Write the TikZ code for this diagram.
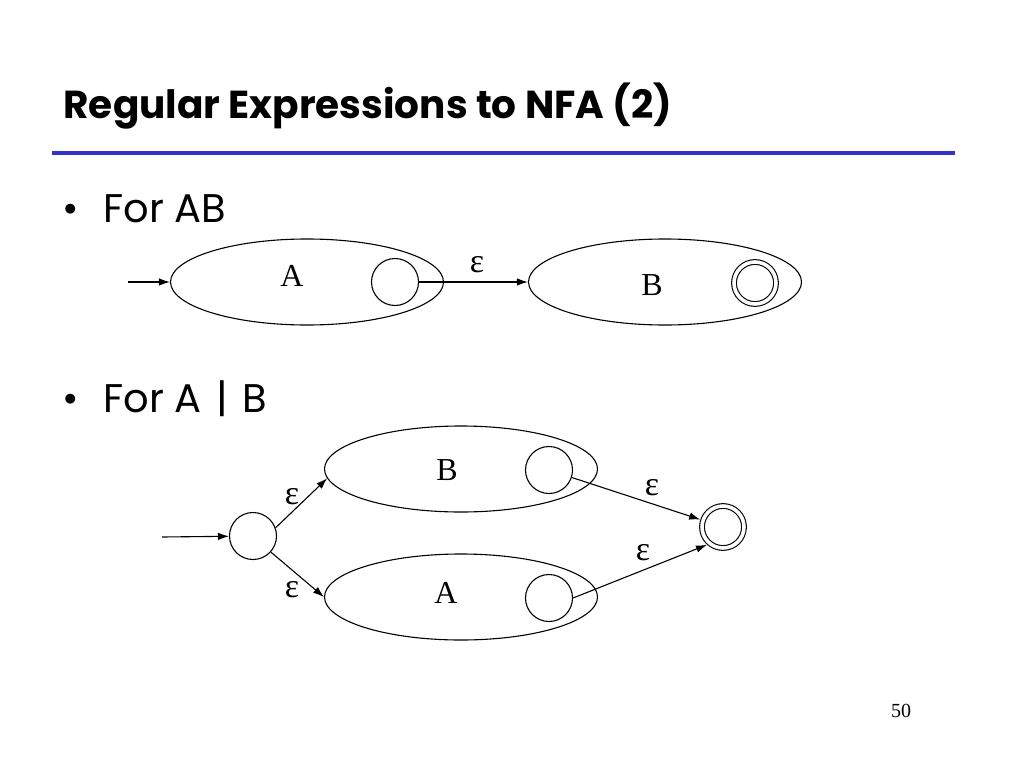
\documentclass[tikz,border=0pt]{standalone}
\usepackage{fontspec}
\setmainfont{Liberation Serif}
\newfontfamily\slidefont{Poppins}
\usetikzlibrary{arrows.meta,shapes.geometric}
\definecolor{rulecol}{RGB}{51,51,204}

\begin{document}
\begin{tikzpicture}[x=1pt,y=-1pt,line width=1.1pt,
    >={Latex[length=11pt,width=7.5pt]},
    blob/.style={draw,ellipse,minimum width=273pt,minimum height=86pt,inner sep=0pt},
    circ/.style={draw,circle,minimum size=47pt,inner sep=0pt},
    accept/.style={draw,circle,double,double distance=3.6pt,minimum size=42pt,inner sep=0pt,outer sep=3pt},
    lbl/.style={font=\fontsize{32}{32}\selectfont,inner sep=0pt},
    eps/.style={font=\fontsize{34}{34}\selectfont,inner sep=0pt}]
\useasboundingbox (0,0) rectangle (1024,768);
% heading
\node[anchor=base west,inner sep=0pt,font=\slidefont\bfseries\fontsize{39}{39}\selectfont] (title) at (63,118) {Regular Expressions to NFA (2)};
\coordinate (r1) at (52,153);
\coordinate (r2) at (955,153);
\draw[line width=4pt,rulecol] (r1) -- (r2);
\foreach \n/\y/\t in {1/222/For AB,2/412/For A \hspace{4pt}|\hspace{4pt} B}{
  \node[anchor=base,inner sep=0pt,font=\slidefont\fontsize{40}{40}\selectfont] (bul\n) at (71,\y) {•};
  \node[anchor=base west,inner sep=0pt,font=\slidefont\fontsize{40}{40}\selectfont] (item\n) at (103,\y) {\t};
}
% AB
\coordinate (in1) at (128,282);
\node[blob] (eA) at (307,282) {};
\node[blob] (eB) at (665,282) {};
\node[circ] (qA) at (395,282) {};
\node[accept] (fB) at (755,283) {};
\node[lbl] (labA) at (292,276) {A};
\node[lbl] (labB) at (652,285) {B};
\draw[->] (in1) -- (eA.west);
\draw[->] (qA.east) -- (eB.west);
\node[eps] (e1) at (477,265) {ε};
% A | B
\coordinate (in2) at (162,537);
\node[circ] (s) at (253,536) {};
\node[blob] (eB2) at (461,469) {};
\node[blob] (eA2) at (461,597) {};
\node[circ] (qB2) at (549,470) {};
\node[circ] (qA2) at (549,598) {};
\node[accept] (f) at (723,527) {};
\node[lbl] (labB2) at (447,470) {B};
\node[lbl] (labA2) at (446,593) {A};
\draw[->] (in2) -- (s);
\draw[->] (s.20) -- (eB2.184);
\draw[->] (s.-42) -- (eA2.west);
\draw[->] (qB2) -- (f);
\draw[->] (qA2.east) -- (f.228);
\node[eps] (e2) at (292,497) {ε};
\node[eps] (e3) at (292,590) {ε};
\node[eps] (e4) at (652,488) {ε};
\node[eps] (e5) at (643,553) {ε};
\node[font=\fontsize{20}{20}\selectfont,inner sep=0pt] (pg) at (901,711) {50};
\end{tikzpicture}
\end{document}
